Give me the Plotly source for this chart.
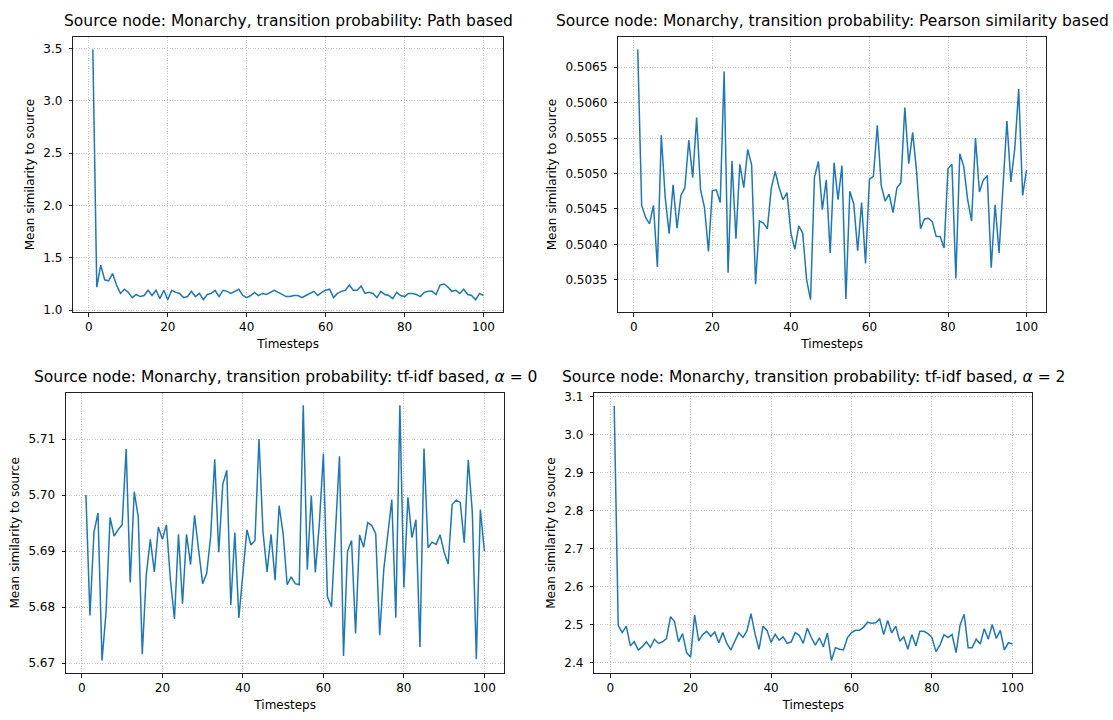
import plotly.graph_objects as go

timesteps = list(range(1, 101))

path_based = [3.49, 1.22, 1.43, 1.29, 1.28, 1.35, 1.24, 1.16, 1.20, 1.17,
              1.12, 1.15, 1.13, 1.14, 1.19, 1.14, 1.19, 1.11, 1.19, 1.10,
              1.19, 1.17, 1.16, 1.12, 1.13, 1.18, 1.13, 1.16, 1.10, 1.15,
              1.16, 1.19, 1.13, 1.19, 1.18, 1.16, 1.18, 1.20, 1.14, 1.12,
              1.14, 1.17, 1.14, 1.16, 1.15, 1.17, 1.19, 1.17, 1.15, 1.13,
              1.13, 1.14, 1.14, 1.12, 1.14, 1.16, 1.18, 1.14, 1.17, 1.19,
              1.20, 1.12, 1.16, 1.18, 1.19, 1.24, 1.19, 1.19, 1.23, 1.16,
              1.17, 1.16, 1.12, 1.18, 1.15, 1.14, 1.11, 1.17, 1.14, 1.13,
              1.16, 1.16, 1.15, 1.13, 1.17, 1.18, 1.18, 1.15, 1.24, 1.25,
              1.22, 1.18, 1.19, 1.16, 1.20, 1.15, 1.14, 1.10, 1.16, 1.14]

pearson_based = [0.50675, 0.50455, 0.50438, 0.50429, 0.50455, 0.50368, 0.50554, 0.50466, 0.50415, 0.50484,
                 0.50423, 0.50469, 0.50480, 0.50547, 0.50494, 0.50579, 0.50477, 0.50452, 0.50390, 0.50476,
                 0.50477, 0.50459, 0.50644, 0.50360, 0.50518, 0.50408, 0.50513, 0.50480, 0.50534, 0.50512,
                 0.50344, 0.50433, 0.50430, 0.50422, 0.50479, 0.50503, 0.50480, 0.50463, 0.50473, 0.50416,
                 0.50393, 0.50426, 0.50416, 0.50350, 0.50322, 0.50495, 0.50517, 0.50449, 0.50491, 0.50388,
                 0.50515, 0.50463, 0.50511, 0.50323, 0.50475, 0.50457, 0.50391, 0.50459, 0.50373, 0.50492,
                 0.50496, 0.50568, 0.50483, 0.50461, 0.50471, 0.50445, 0.50480, 0.50487, 0.50593, 0.50514,
                 0.50558, 0.50503, 0.50422, 0.50436, 0.50437, 0.50432, 0.50411, 0.50411, 0.50395, 0.50507,
                 0.50513, 0.50352, 0.50528, 0.50510, 0.50463, 0.50433, 0.50550, 0.50474, 0.50491, 0.50497,
                 0.50367, 0.50456, 0.50388, 0.50489, 0.50574, 0.50488, 0.50535, 0.50619, 0.50469, 0.50505]

tfidf_alpha0 = [5.7000, 5.6785, 5.6934, 5.6968, 5.6705, 5.6791, 5.6960, 5.6927, 5.6938, 5.6947,
                5.7082, 5.6844, 5.7006, 5.6961, 5.6716, 5.6858, 5.6921, 5.6863, 5.6943, 5.6921,
                5.6947, 5.6848, 5.6779, 5.6930, 5.6806, 5.6930, 5.6876, 5.6964, 5.6902, 5.6842,
                5.6860, 5.6927, 5.7064, 5.6898, 5.7019, 5.7044, 5.6804, 5.6933, 5.6781, 5.6855,
                5.6938, 5.6911, 5.6919, 5.7100, 5.6934, 5.6863, 5.6930, 5.6848, 5.6981, 5.6931,
                5.6840, 5.6854, 5.6842, 5.6840, 5.7160, 5.6867, 5.6999, 5.6862, 5.6949, 5.7074,
                5.6819, 5.6801, 5.6943, 5.7069, 5.6713, 5.6900, 5.6919, 5.6753, 5.6929, 5.6907,
                5.6951, 5.6946, 5.6931, 5.6750, 5.6867, 5.6929, 5.6992, 5.6781, 5.7160, 5.6835,
                5.6996, 5.6924, 5.6956, 5.6729, 5.7083, 5.6906, 5.6916, 5.6912, 5.6929, 5.6898,
                5.6877, 5.6983, 5.6991, 5.6987, 5.6915, 5.7063, 5.6970, 5.6707, 5.6974, 5.6900]

tfidf_alpha2 = [3.0757, 2.4974, 2.4785, 2.4957, 2.4441, 2.4544, 2.4329, 2.4415, 2.4544, 2.4398,
                2.4613, 2.4501, 2.4544, 2.4630, 2.5207, 2.5077, 2.4544, 2.4759, 2.4260, 2.4139,
                2.5250, 2.4570, 2.4733, 2.4819, 2.4690, 2.4802, 2.4518, 2.4785, 2.4501, 2.4329,
                2.4561, 2.4785, 2.4656, 2.4828, 2.5284, 2.4759, 2.4346, 2.4957, 2.4845, 2.4527,
                2.4742, 2.4587, 2.4673, 2.4501, 2.4544, 2.4785, 2.4716, 2.4501, 2.4905, 2.4656,
                2.4458, 2.4647, 2.4415, 2.4776, 2.4053, 2.4389, 2.4346, 2.4329, 2.4656, 2.4785,
                2.4845, 2.4845, 2.4931, 2.5060, 2.5034, 2.5043, 2.5146, 2.4733, 2.5103, 2.4776,
                2.4957, 2.4561, 2.4673, 2.4346, 2.4733, 2.4432, 2.4819, 2.4819, 2.4759, 2.4656,
                2.4286, 2.4458, 2.4733, 2.4656, 2.4733, 2.4260, 2.4991, 2.5267, 2.4389, 2.4389,
                2.4613, 2.4484, 2.4888, 2.4613, 2.5000, 2.4630, 2.4845, 2.4329, 2.4518, 2.4484]

titles = ["Source node: Monarchy, transition probability: Path based",
          "Source node: Monarchy, transition probability: Pearson similarity based",
          "Source node: Monarchy, transition probability: tf-idf based, <i>α</i> = 0",
          "Source node: Monarchy, transition probability: tf-idf based, <i>α</i> = 2"]
x_label = "Timesteps"
y_label = "Mean similarity to source"

W, H = 1113, 720
# pixel boxes (left, right, top, bottom)
boxes = [(73.3, 503.0, 34.3, 312.7),
         (618.3, 1046.0, 34.3, 312.7),
         (66.0, 504.3, 394.0, 677.7),
         (594.3, 1032.3, 394.5, 677.7)]
series = [path_based, pearson_based, tfidf_alpha0, tfidf_alpha2]
ydticks = [0.5, 0.0005, 0.01, 0.1]
yfmts = [".1f", ".4f", ".2f", ".1f"]

FONT = "DejaVu Sans"
fig = go.Figure()
annotations = []
for i, (ys, box) in enumerate(zip(series, boxes)):
    n = "" if i == 0 else str(i + 1)
    l, r, t, b = box
    ymin, ymax = min(ys), max(ys)
    pad = (ymax - ymin) * 0.05
    fig.add_trace(go.Scatter(x=timesteps, y=ys, mode="lines",
                             line=dict(color="#1f77b4", width=1.5),
                             xaxis="x" + n, yaxis="y" + n, showlegend=False,
                             hoverinfo="skip"))
    common = dict(showline=True, linecolor="#222222", linewidth=1, mirror=True,
                  ticks="outside", ticklen=3.5, tickwidth=1, tickcolor="#222222",
                  showgrid=True, gridcolor="#c4c4c4", gridwidth=0.8, griddash="1px,1.6px",
                  zeroline=False, tickfont=dict(family=FONT, size=12, color="#000000"))
    fig.layout["xaxis" + n] = dict(domain=[l / W, r / W], anchor="y" + n,
                                   range=[-3.95, 104.95], dtick=20, tick0=0,
                                   title=dict(text=x_label, standoff=6,
                                              font=dict(family=FONT, size=12, color="#000000")),
                                   **common)
    fig.layout["yaxis" + n] = dict(domain=[1 - b / H, 1 - t / H], anchor="x" + n,
                                   range=[ymin - pad, ymax + pad], dtick=ydticks[i],
                                   tick0=0, tickformat=yfmts[i], ticklabelstandoff=4,
                                   title=dict(text=y_label, standoff=6,
                                              font=dict(family=FONT, size=12, color="#000000")),
                                   **common)
    annotations.append(dict(text=titles[i], xref="paper", yref="paper",
                            x=(l + r) / 2 / W, y=1 - (t - 5) / H,
                            xanchor="center", yanchor="bottom", showarrow=False,
                            font=dict(family=FONT, size=15.5, color="#000000")))

fig.update_layout(width=W, height=H, margin=dict(l=0, r=0, t=0, b=0),
                  paper_bgcolor="white", plot_bgcolor="white",
                  annotations=annotations, font=dict(family=FONT))
fig.write_html("out.html")
